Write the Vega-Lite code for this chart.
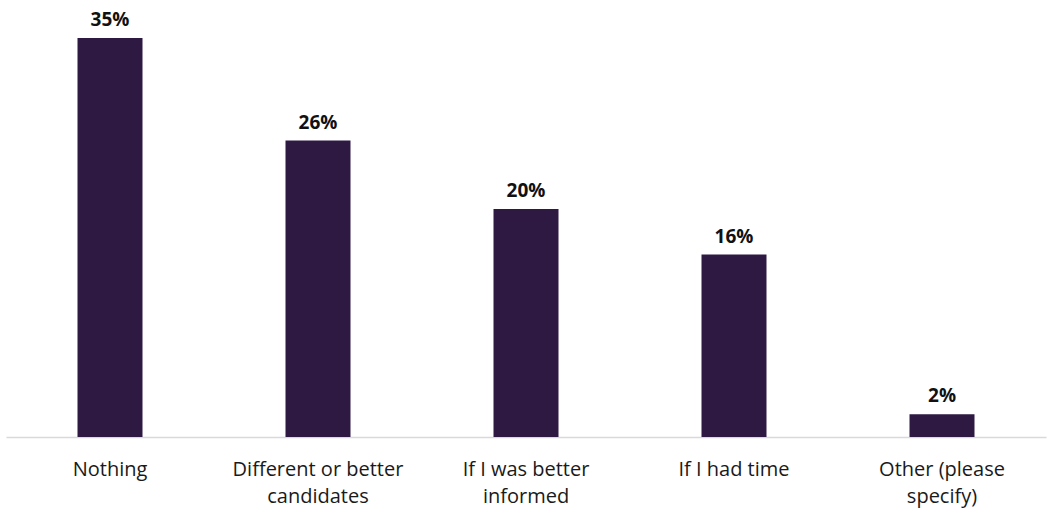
{
  "$schema": "https://vega.github.io/schema/vega-lite/v6.json",
  "autosize": "none",
  "width": 1040,
  "height": 437,
  "padding": {"left": 6, "top": 0, "right": 2, "bottom": 77},
  "background": "white",
  "config": {"view": {"stroke": null}, "font": "Open Sans"},
  "data": {"values": [
    {"category": "Nothing", "pct": 0.35},
    {"category": "Different or better candidates", "pct": 0.26},
    {"category": "If I was better informed", "pct": 0.20},
    {"category": "If I had time", "pct": 0.16},
    {"category": "Other (please specify)", "pct": 0.02}
  ]},
  "encoding": {
    "x": {"field": "category", "type": "nominal", "sort": null,
      "scale": {"paddingInner": 0.6875, "paddingOuter": 0.34375},
      "axis": {"title": null, "labelAngle": 0, "domainColor": "#d9d9d9", "domainWidth": 1.5, "ticks": false,
        "labelFont": "Open Sans", "labelFontSize": 20, "labelColor": "#1a1a1a", "labelPadding": 22, "labelLineHeight": 27,
        "labelExpr": "datum.value == 'Different or better candidates' ? ['Different or better','candidates'] : datum.value == 'If I was better informed' ? ['If I was better','informed'] : datum.value == 'Other (please specify)' ? ['Other (please','specify)'] : datum.value"}},
    "y": {"field": "pct", "type": "quantitative", "scale": {"domain": [0, 0.3833], "nice": false}, "axis": null}
  },
  "layer": [
    {"mark": {"type": "bar", "color": "#2e1943"}},
    {"mark": {"type": "text", "dy": -18, "fontSize": 19, "fontWeight": "bold", "font": "Open Sans", "color": "#111111"},
     "encoding": {"text": {"field": "pct", "type": "quantitative", "format": ".0%"}}}
  ]
}
